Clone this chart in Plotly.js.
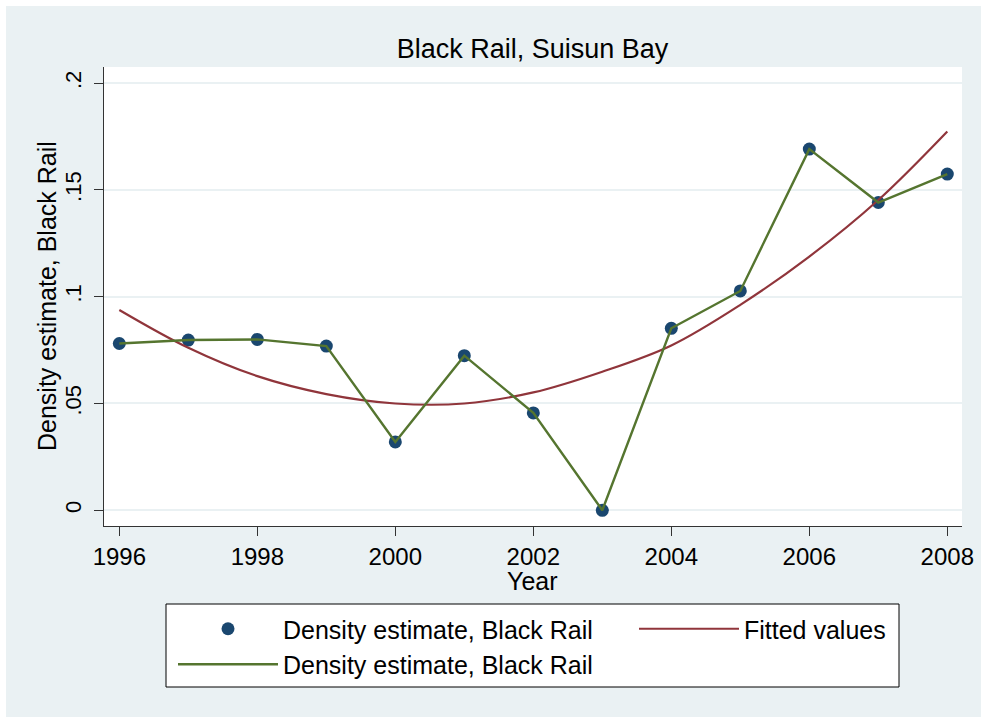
<!DOCTYPE html>
<html>
<head>
<meta charset="utf-8">
<script src="https://cdn.plot.ly/plotly-3.0.1.min.js"></script>
<style>
  html, body { margin: 0; padding: 0; background: #ffffff; }
  #chart { width: 981px; height: 717px; }
</style>
</head>
<body>
<div id="chart"></div>
<script>
// Black Rail density estimates, Suisun Bay, 1996-2008
const years = [1996, 1997, 1998, 1999, 2000, 2001, 2002, 2003, 2004, 2005, 2006, 2007, 2008];
const density = [0.0781, 0.0797, 0.0800, 0.0769, 0.0320, 0.0724, 0.0456, 0.0000, 0.0852, 0.1027, 0.1691, 0.1441, 0.1574];
// quadratic fit of density on year
const fitted = [0.0938, 0.0761, 0.0628, 0.0544, 0.0500, 0.0500, 0.0552, 0.0649, 0.0772, 0.0962, 0.1188, 0.1453, 0.1774];

const xTickVals = [1996, 1998, 2000, 2002, 2004, 2006, 2008];
const yTickVals = [0, 0.05, 0.1, 0.15, 0.2];
const yTickText = ['0', '.05', '.1', '.15', '.2'];

const seriesName = 'Density estimate, Black Rail';
const fitName = 'Fitted values';
const xTitle = 'Year';

const W = 981, H = 717;
const FONT = 'Liberation Sans, Arial, Helvetica, sans-serif';
const BG = '#eaf1f3';
const NAVY = '#1a476f';
const RED = '#90353b';
const GREEN = '#55752f';
const AXIS = '#333333';

// pixel helpers for paper coordinates (margins are zero, so paper = whole figure)
const px = v => v / W;
const py = v => 1 - v / H;

const traces = [
  {
    x: years, y: density, type: 'scatter', mode: 'markers', name: seriesName,
    marker: { color: NAVY, size: 13, line: { width: 0 } },
    legend: 'legend'
  },
  {
    x: years, y: fitted, type: 'scatter', mode: 'lines', name: fitName,
    line: { color: RED, width: 2.2, shape: 'spline', smoothing: 1 },
    legend: 'legend2'
  },
  {
    x: years, y: density, type: 'scatter', mode: 'lines', name: seriesName,
    line: { color: GREEN, width: 2.4 },
    legend: 'legend'
  }
];

const legendCommon = {
  orientation: 'v',
  bgcolor: 'rgba(0,0,0,0)',
  borderwidth: 0,
  font: { family: FONT, size: 25, color: '#000000' },
  itemwidth: 100,
  xanchor: 'left', yanchor: 'top',
  xref: 'paper', yref: 'paper',
  traceorder: 'normal'
};

const layout = {
  width: W, height: H,
  margin: { l: 0, r: 0, t: 0, b: 0, autoexpand: false },
  paper_bgcolor: BG,
  plot_bgcolor: '#ffffff',
  font: { family: FONT, color: '#000000' },
  showlegend: true,
  hovermode: false,
  title: {
    text: 'Black Rail, Suisun Bay',
    font: { family: FONT, size: 27, color: '#000000' },
    xref: 'paper', yref: 'paper',
    x: px(532.5), xanchor: 'center',
    y: py(49), yanchor: 'middle'
  },
  xaxis: {
    domain: [px(104), px(962)],
    range: [1995.778, 2008.213],
    tickmode: 'array', tickvals: xTickVals,
    ticks: 'outside', ticklen: 9, tickwidth: 1, tickcolor: AXIS,
    showline: true, linecolor: AXIS, linewidth: 1,
    showgrid: false, zeroline: false,
    tickfont: { family: FONT, size: 24, color: '#000000' },
    automargin: false
  },
  yaxis: {
    domain: [1 - 526 / H, 1 - 67 / H],
    range: [-0.00736, 0.20755],
    tickmode: 'array', tickvals: yTickVals, ticktext: yTickText,
    tickangle: -90,
    ticks: 'outside', ticklen: 9, tickwidth: 1, tickcolor: AXIS,
    ticklabelstandoff: 4,
    showline: true, linecolor: AXIS, linewidth: 1,
    showgrid: true, gridcolor: BG, gridwidth: 2,
    zeroline: false,
    tickfont: { family: FONT, size: 22, color: '#000000' },
    automargin: false
  },
  annotations: [
    { text: xTitle, xref: 'paper', yref: 'paper', x: px(532.5), y: py(581),
      xanchor: 'center', yanchor: 'middle', showarrow: false,
      font: { family: FONT, size: 25, color: '#000000' } },
    { text: seriesName, xref: 'paper', yref: 'paper', x: px(47), y: py(296),
      xanchor: 'center', yanchor: 'middle', showarrow: false, textangle: -90,
      font: { family: FONT, size: 25, color: '#000000' } }
  ],
  legend: Object.assign({}, legendCommon, { x: px(173), y: py(606) }),
  legend2: Object.assign({}, legendCommon, { x: px(634), y: py(606) }),
  shapes: [
    // white frame strips along the top and left edges
    { type: 'rect', xref: 'paper', yref: 'paper', x0: 0, x1: px(6), y0: 0, y1: 1,
      fillcolor: '#ffffff', line: { width: 0 }, layer: 'below' },
    { type: 'rect', xref: 'paper', yref: 'paper', x0: 0, x1: 1, y0: py(6), y1: 1,
      fillcolor: '#ffffff', line: { width: 0 }, layer: 'below' },
    // legend box
    { type: 'rect', xref: 'paper', yref: 'paper', x0: px(166), x1: px(899), y0: py(687), y1: py(604),
      fillcolor: '#ffffff', line: { color: '#000000', width: 1 }, layer: 'below' }
  ]
};

Plotly.newPlot('chart', traces, layout, { displayModeBar: false, staticPlot: true });
</script>
</body>
</html>
